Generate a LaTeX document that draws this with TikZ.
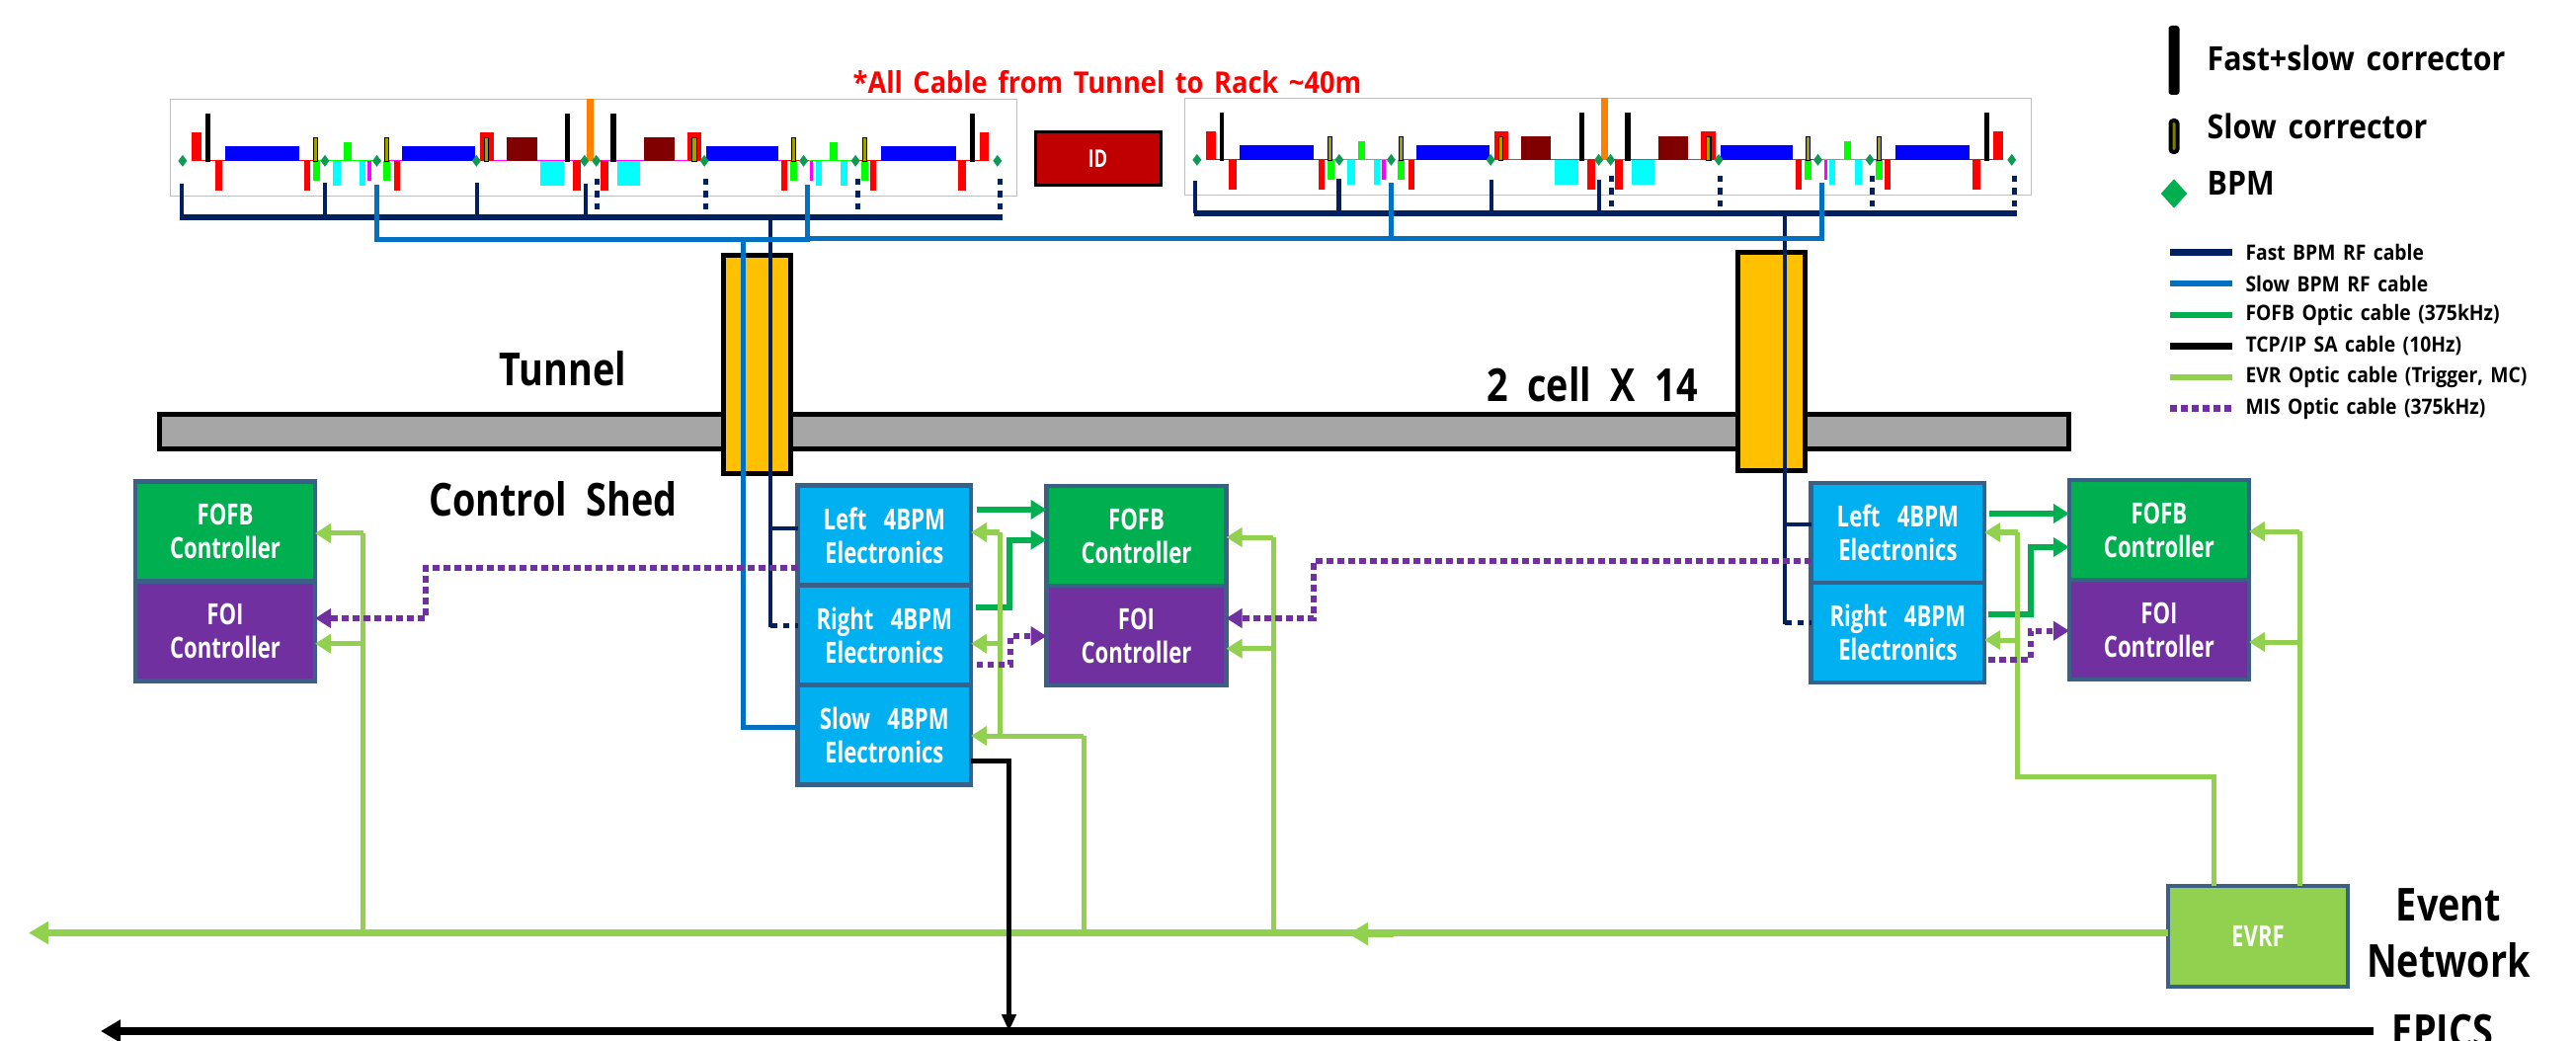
\documentclass[tikz,border=0pt]{standalone}
\usepackage{fontspec}
\setmainfont{Open Sans}
\newfontfamily\narrowfont{Open Sans}[FakeStretch=0.75, WordSpace=3]
\newfontfamily\bigfont{Open Sans}[FakeStretch=0.82, WordSpace=2]
\newfontfamily\legendfont{Open Sans}[FakeStretch=0.90, WordSpace=1.5]
\usetikzlibrary{arrows.meta, positioning, shapes.geometric}
\definecolor{cfast}{HTML}{002060}
\definecolor{cslow}{HTML}{0070C0}
\definecolor{cfofb}{HTML}{00B050}
\definecolor{cevr}{HTML}{92D050}
\definecolor{cmis}{HTML}{7030A0}
\definecolor{cedge}{HTML}{3B6088}
\definecolor{celec}{HTML}{00B0F0}
\definecolor{cyellow}{HTML}{FFC000}
\definecolor{cbar}{HTML}{A6A6A6}
\definecolor{cid}{HTML}{C00000}
\definecolor{cbpm}{HTML}{0E9A55}
\definecolor{cmono}{HTML}{A0A000}
\definecolor{ccyan}{HTML}{00FFFF}
\definecolor{cmag}{HTML}{FF00FF}
\definecolor{cdip}{HTML}{800000}
\tikzset{
  elec/.style={draw=cedge, fill=celec, line width=0.045cm, text=white, align=center, inner sep=0pt, outer sep=0pt, minimum width=1.755cm, minimum height=1.01cm, font=\narrowfont\bfseries\fontsize{8.4}{9.7}\selectfont},
  ctrl/.style={elec, fill=#1, minimum width=1.82cm},
  fastcable/.style={draw=cfast, line width=0.045cm},
  fastbus/.style={draw=cfast, line width=0.06cm},
  fastdash/.style={fastcable, line width=0.05cm, dash pattern=on 0.065cm off 0.06cm},
  slowcable/.style={draw=cslow, line width=0.05cm},
  fofbline/.style={draw=cfofb, line width=0.06cm},
  fofbcable/.style={fofbline, -{Triangle[length=0.16cm, width=0.19cm]}},
  tcpcable/.style={draw=black, line width=0.05cm},
  evrcable/.style={draw=cevr, line width=0.05cm},
  evrarrow/.style={evrcable, -{Triangle[length=0.16cm, width=0.19cm]}},
  evrbus/.style={draw=cevr, line width=0.076cm, -{Triangle[length=0.2cm, width=0.22cm]}},
  miscable/.style={draw=cmis, line width=0.06cm, dash pattern=on 0.065cm off 0.045cm},
  misarrow/.style={miscable, -{Triangle[length=0.16cm, width=0.19cm, sep=0pt]}},
  bigtext/.style={font=\bigfont\bfseries\fontsize{13.1}{16.1}\selectfont, align=center, inner sep=0pt},
  legtext/.style={font=\legendfont\bfseries\fontsize{6.1}{7}\selectfont, anchor=west, inner sep=0pt},
  legbig/.style={font=\legendfont\bfseries\fontsize{9.6}{11}\selectfont, anchor=west, inner sep=0pt},
  bpmmark/.style={diamond, fill=cbpm, inner sep=0pt, minimum width=0.095cm, minimum height=0.125cm},
  cellstrip/.pic={
    \begin{scope}[x=0.003333cm, y=-0.003333cm]
      \draw[draw=black!25, fill=white, line width=0.012cm] (23,31) rectangle (2600,327);
      % beam line
      \foreach \a/\b/\c in {100/470/red, 470/640/green, 680/1250/cmag, 1250/1335/red, 1335/1885/cmag, 1885/1965/red, 1965/2120/green, 2120/2500/red}
        \fill[\c] (\a,217.5) rectangle (\b,220.5);
      \foreach \a/\b in {88/118, 965/1008, 1595/1639, 2485/2513} \fill[red] (\a,133) rectangle (\b,219);
      \foreach \a/\b in {158/180, 430/448, 703/721, 1248/1271, 1331/1355, 1881/1899, 2153/2171, 2421/2445} \fill[red] (\a,219) rectangle (\b,310);
      \foreach \a/\b in {190/415, 729/949, 1655/1872, 2187/2413} \fill[blue] (\a,175) rectangle (\b,219);
      \foreach \a/\b in {1047/1138, 1464/1556} \fill[cdip] (\a,148) rectangle (\b,219);
      \foreach \a/\b in {516/540, 598/616, 1149/1220, 1383/1453, 1986/2004, 2063/2084} \fill[ccyan] (\a,219) rectangle (\b,295);
      \foreach \a/\b in {456/477, 671/693, 1910/1931, 2126/2146} \fill[green] (\a,219) rectangle (\b,281);
      \foreach \a/\b in {550/573, 2029/2052} \fill[green] (\a,162) rectangle (\b,219);
      \foreach \a/\b in {623/634, 1969/1979} \fill[cmag] (\a,219) rectangle (\b,281);
      \fill[orange] (1289,31) rectangle (1312,219);
      \foreach \a/\b in {129/143, 1225/1239, 1363/1379, 2456/2471} \fill[black] (\a,75) rectangle (\b,222);
      \foreach \a/\b in {459/471, 675/688, 979/991, 1610/1624, 1913/1926, 2130/2142}
        \draw[draw=black, fill=cmono, line width=0.012cm] (\a,150) rectangle (\b,220);
      \foreach \x [count=\i] in {60, 493, 651, 954, 1283, 1319, 1648, 1950, 2108, 2540}
        \node[bpmmark] (bpm\i) at (\x,219) {};
    \end{scope}
  },
}

\begin{document}
\begin{tikzpicture}[x=1cm, y=-1cm]
  \useasboundingbox (0,0) rectangle (26.08,10.54);
  \node[font=\legendfont\bfseries\fontsize{8.6}{10}\selectfont, text=red, inner sep=0pt] (cabletitle) at (11.21,0.83) {*All Cable from Tunnel to Rack \char`\~40m};
  \pic (cell1) at (1.65,0.90) {cellstrip};
  \pic (cell2) at (11.919,0.89) {cellstrip};
  \node[draw=black, fill=cid, line width=0.03cm, text=white, minimum width=1.27cm, minimum height=0.54cm, inner sep=0pt, font=\narrowfont\bfseries\fontsize{7}{8}\selectfont] (idbox) at (11.115,1.605) {ID};

  % tunnel
  \node[draw=black, fill=cbar, line width=0.045cm, minimum width=19.33cm, minimum height=0.35cm, inner sep=0pt] (wall) at (11.28,4.37) {};
  \node[draw=black, fill=cyellow, line width=0.05cm, minimum width=0.68cm, minimum height=2.21cm, inner sep=0pt, outer sep=0pt] (pass1) at (7.665,3.69) {};
  \node[draw=black, fill=cyellow, line width=0.05cm, minimum width=0.68cm, minimum height=2.21cm, inner sep=0pt, outer sep=0pt] (pass2) at (17.93,3.66) {};
  \node[bigtext] (tunnellabel) at (5.70,3.73) {Tunnel};
  \node[bigtext] (cellslabel) at (16.12,3.89) {2 cell X 14};
  \node[bigtext] (shedlabel) at (5.60,5.05) {Control Shed};

  % racks
  \node[ctrl=cfofb] (fofb0) at (2.28,5.38) {FOFB\\Controller};
  \node[ctrl=cmis, below=0pt of fofb0] (foi0) {FOI\\Controller};
  \node[elec] (left1) at (8.953,5.42) {Left 4BPM\\Electronics};
  \node[elec, below=0pt of left1] (right1) {Right 4BPM\\Electronics};
  \node[elec, below=0pt of right1] (slow1) {Slow 4BPM\\Electronics};
  \node[ctrl=cfofb] (fofb1) at (11.505,5.427) {FOFB\\Controller};
  \node[ctrl=cmis, below=0pt of fofb1] (foi1) {FOI\\Controller};
  \node[elec] (left2) at (19.214,5.395) {Left 4BPM\\Electronics};
  \node[elec, below=0pt of left2] (right2) {Right 4BPM\\Electronics};
  \node[ctrl=cfofb] (fofb2) at (21.859,5.365) {FOFB\\Controller};
  \node[ctrl=cmis, below=0pt of fofb2] (foi2) {FOI\\Controller};
  \node[elec, fill=cevr, minimum width=1.82cm, minimum height=1.02cm] (evrf) at (22.86,9.48) {EVRF};
  \node[bigtext] (eventlabel) at (24.79,9.45) {Event\\Network};
  \node[bigtext, anchor=base] (epicslabel) at (24.73,10.60) {EPICS};

  % fast BPM cables
  \coordinate (bus1) at (1.82,2.20);
  \coordinate (bus1e) at (10.15,2.20);
  \coordinate (bus2) at (12.09,2.16);
  \coordinate (bus2e) at (20.42,2.16);
  \draw[fastbus] (bus1) -- (bus1e);
  \draw[fastbus] (bus2) -- (bus2e);
  \foreach \x/\t [count=\i] in {1.84/1.86, 3.29/1.85, 4.83/1.85, 5.93/1.86} {
    \coordinate (tick\i) at (\x,\t);
    \draw[fastcable] (tick\i) -- (tick\i |- bus1);
  }
  \foreach \x/\t [count=\i from 5] in {12.10/1.83, 13.557/1.81, 15.10/1.82, 16.19/1.82} {
    \coordinate (tick\i) at (\x,\t);
    \draw[fastcable] (tick\i) -- (tick\i |- bus2);
  }
  \foreach \x [count=\i] in {6.04, 7.14, 8.68, 10.125} {
    \coordinate (dot\i) at (\x,1.81);
    \draw[fastdash] (dot\i) -- (dot\i |- bus1);
  }
  \foreach \x [count=\i from 5] in {16.31, 17.414, 18.95, 20.39} {
    \coordinate (dot\i) at (\x,1.78);
    \draw[fastdash] (dot\i) -- (dot\i |- bus2);
  }
  % fast BPM trunks
  \coordinate (trunk1) at (7.80,2.20);
  \coordinate (bend1) at (7.80,6.33);
  \coordinate (tee1) at (7.80,5.35);
  \draw[fastcable, line cap=rect] (trunk1) -- (bend1);
  \draw[fastcable] (tee1) -- (left1.west |- tee1);
  \draw[fastdash] (bend1) -- (right1.west |- bend1);
  \coordinate (trunk2) at (18.07,2.16);
  \coordinate (bend2) at (18.07,6.30);
  \coordinate (tee2) at (18.07,5.31);
  \draw[fastcable, line cap=rect] (trunk2) -- (bend2);
  \draw[fastcable] (tee2) -- (left2.west |- tee2);
  \draw[fastdash] (bend2) -- (right2.west |- bend2);

  % slow BPM cables
  \coordinate (sl1) at (3.81,1.87);
  \coordinate (sl2) at (8.17,1.87);
  \coordinate (sl3) at (14.085,1.85);
  \coordinate (sl4) at (18.44,1.85);
  \coordinate (slowbus) at (8.17,2.43);
  \coordinate (slowbus2) at (8.17,2.415);
  \coordinate (drop1) at (7.526,2.43);
  \coordinate (drop2) at (7.526,7.36);
  \draw[slowcable] (sl1) |- (slowbus) -- (sl2);
  \draw[slowcable] (slowbus2) -| (sl4);
  \draw[slowcable] (sl3) -- (sl3 |- slowbus2);
  \draw[slowcable] (drop1) -- (drop2) -- (slow1.west |- drop2);

  % FOFB optic
  \coordinate (of1) at (9.89,5.16);
  \coordinate (of2) at (9.88,6.15);
  \coordinate (of3) at (10.22,5.467);
  \draw[fofbcable] (of1) -- (fofb1.west |- of1);
  \draw[fofbcable] (of2) -| (of3) -- (fofb1.west |- of3);
  \coordinate (of4) at (20.135,5.20);
  \coordinate (of5) at (20.13,6.22);
  \coordinate (of6) at (20.555,5.54);
  \draw[fofbcable] (of4) -- (fofb2.west |- of4);
  \draw[fofbcable] (of5) -| (of6) -- (fofb2.west |- of6);

  % event network
  \coordinate (busstart) at (21.93,9.445);
  \coordinate (bustip) at (0.29,9.445);
  \draw[evrbus] (evrf.west |- busstart) -- (bustip);
  \coordinate (midstart) at (14.11,9.455);
  \coordinate (midtip) at (13.65,9.455);
  \draw[evrbus] (midstart) -- (midtip);
  % left rack
  \coordinate (ev1) at (3.677,5.40);
  \coordinate (ev2) at (3.677,6.517);
  \draw[evrcable] (ev1 |- bustip) -- (ev1);
  \draw[evrarrow] (ev1) -- (fofb0.east |- ev1);
  \draw[evrarrow] (ev2) -- (foi0.east |- ev2);
  % centre racks
  \coordinate (ev3) at (10.97,7.45);
  \coordinate (ev4) at (10.12,5.39);
  \coordinate (ev5) at (10.12,6.517);
  \coordinate (ev6) at (10.12,7.45);
  \draw[evrcable] (ev3 |- bustip) -- (ev3);
  \draw[evrarrow] (ev3) -- (slow1.east |- ev3);
  \draw[evrcable] (ev6) -- (ev4);
  \draw[evrarrow] (ev4) -- (left1.east |- ev4);
  \draw[evrarrow] (ev5) -- (right1.east |- ev5);
  \coordinate (ev7) at (12.89,5.44);
  \coordinate (ev8) at (12.89,6.567);
  \draw[evrcable] (ev7 |- bustip) -- (ev7);
  \draw[evrarrow] (ev7) -- (fofb1.east |- ev7);
  \draw[evrarrow] (ev8) -- (foi1.east |- ev8);
  % right racks
  \coordinate (ev9) at (22.41,7.867);
  \coordinate (ev10) at (20.425,7.867);
  \coordinate (ev11) at (20.425,5.39);
  \coordinate (ev12) at (20.425,6.48);
  \draw[evrcable] (evrf.north -| ev9) -- (ev9) -- (ev10) -- (ev11);
  \draw[evrarrow] (ev11) -- (left2.east |- ev11);
  \draw[evrarrow] (ev12) -- (right2.east |- ev12);
  \coordinate (ev13) at (23.28,5.38);
  \coordinate (ev14) at (23.28,6.50);
  \draw[evrcable] (evrf.north -| ev13) -- (ev13);
  \draw[evrarrow] (ev13) -- (fofb2.east |- ev13);
  \draw[evrarrow] (ev14) -- (foi2.east |- ev14);

  % MIS optic
  \coordinate (mi1) at (4.31,5.75);
  \coordinate (mi2) at (4.31,6.26);
  \draw[misarrow] (left1.west |- mi1) -- (mi1) -- (mi2) -- (foi0.east |- mi2);
  \coordinate (mi3) at (13.30,5.68);
  \coordinate (mi4) at (13.30,6.26);
  \draw[misarrow] (left2.west |- mi3) -- (mi3) -- (mi4) -- (foi1.east |- mi4);
  \coordinate (mi5) at (9.886,6.73);
  \coordinate (mi6) at (10.23,6.44);
  \draw[misarrow] (mi5) -| (mi6) -- (foi1.west |- mi6);
  \coordinate (mi7) at (20.13,6.68);
  \coordinate (mi8) at (20.555,6.387);
  \draw[misarrow] (mi7) -| (mi8) -- (foi2.west |- mi8);

  % TCP/IP to EPICS
  \coordinate (sa1) at (10.215,7.707);
  \coordinate (epicsend) at (24.03,10.44);
  \coordinate (epicstip) at (1.02,10.44);
  \draw[tcpcable] (slow1.east |- sa1) -- (sa1);
  \draw[tcpcable, line width=0.045cm, line cap=rect, -{Triangle[length=0.17cm, width=0.14cm]}] (sa1) -- (sa1 |- epicsend);
  \draw[draw=black, line width=0.08cm, -{Triangle[length=0.2cm, width=0.22cm]}] (epicsend) -- (epicstip);

  % legend
  \node[fill=black, rounded corners=0.03cm, minimum width=0.11cm, minimum height=0.70cm, inner sep=0pt] (legfast) at (22.01,0.61) {};
  \node[draw=black, fill=cmono!80!black, line width=0.04cm, rounded corners=0.03cm, minimum width=0.07cm, minimum height=0.32cm, inner sep=0pt] (legmono) at (22.01,1.38) {};
  \node[diamond, fill=cfofb, inner sep=0pt, minimum width=0.27cm, minimum height=0.30cm] (legbpm) at (22.01,1.96) {};
  \node[legbig] (legfasttext) at (22.34,0.585) {Fast+slow corrector};
  \node[legbig] (legmonotext) at (22.34,1.28) {Slow corrector};
  \node[legbig] (legbpmtext) at (22.34,1.85) {BPM};
  \foreach \y/\s/\t [count=\i] in {2.557/fastcable/{Fast BPM RF cable}, 2.87/slowcable/{Slow BPM RF cable}, 3.19/fofbline/{FOFB Optic cable (375kHz)}, 3.503/tcpcable/{TCP/IP SA cable (10Hz)}, 3.82/evrcable/{EVR Optic cable (Trigger, MC)}, 4.137/miscable/{MIS Optic cable (375kHz)}} {
    \coordinate (leg\i) at (21.973,\y);
    \node[legtext, right=0.755cm of leg\i] (legt\i) {\t};
    \draw[\s, line width=0.065cm, shorten >=0.125cm] (leg\i) -- (legt\i.west);
  }
\end{tikzpicture}
\end{document}
